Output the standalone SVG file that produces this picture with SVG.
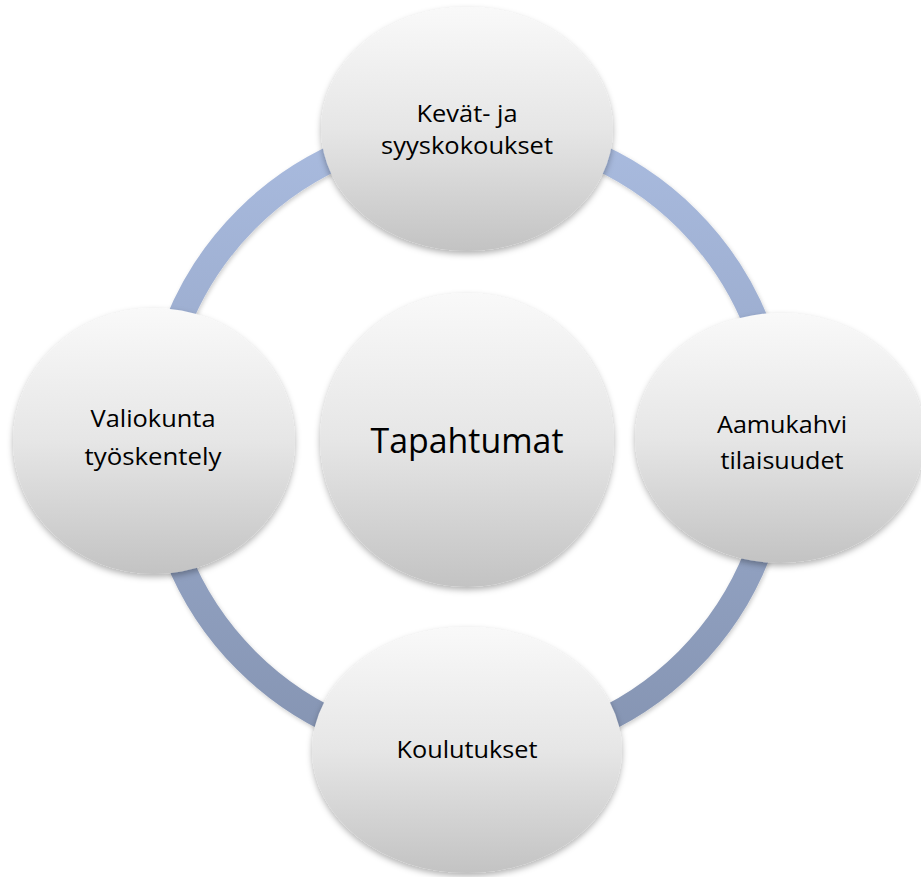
<svg xmlns="http://www.w3.org/2000/svg" width="921" height="877" viewBox="0 0 921 877">
<defs>
<linearGradient id="ringGrad" gradientUnits="userSpaceOnUse" x1="0" y1="128" x2="0" y2="752">
<stop offset="0" stop-color="#a9bbdf"/>
<stop offset="1" stop-color="#8594b2"/>
</linearGradient>
<linearGradient id="nodeGrad" x1="0" y1="0" x2="0" y2="1">
<stop offset="0" stop-color="#f9f9f9"/>
<stop offset="0.5" stop-color="#e6e6e6"/>
<stop offset="1" stop-color="#c3c3c3"/>
</linearGradient>
<filter id="shadow" x="-10%" y="-10%" width="120%" height="125%">
<feDropShadow dx="0" dy="3" stdDeviation="3" flood-color="#000" flood-opacity="0.3"/>
</filter>
<filter id="ringShadow" x="-10%" y="-10%" width="120%" height="120%">
<feDropShadow dx="1" dy="2" stdDeviation="2" flood-color="#000" flood-opacity="0.2"/>
</filter>
</defs>
<style>
.arc{fill:none;stroke:url(#ringGrad);stroke-width:26}
.node{fill:url(#nodeGrad);filter:url(#shadow)}
.lbl{font-family:"Open Sans","Noto Sans","Liberation Sans",sans-serif;font-size:24px;fill:#000;text-anchor:middle}
.big{font-size:35px}
</style>
<rect width="921" height="877" fill="#fff"/>
<g id="connectors" filter="url(#ringShadow)">
<path class="arc" d="M467,128 A312,312 0 0 1 779,440"/>
<path class="arc" d="M779,440 A312,312 0 0 1 467,752"/>
<path class="arc" d="M467,752 A312,312 0 0 1 155,440"/>
<path class="arc" d="M155,440 A312,312 0 0 1 467,128"/>
</g>
<g id="node-center">
<circle class="node" cx="467" cy="440" r="147"/>
<text class="lbl big" x="467" y="453" textLength="193" lengthAdjust="spacingAndGlyphs">Tapahtumat</text>
</g>
<g id="node-top">
<ellipse class="node" cx="467" cy="129" rx="146" ry="122"/>
<text class="lbl" x="467" y="122" textLength="101" lengthAdjust="spacingAndGlyphs">Kevät- ja</text>
<text class="lbl" x="467" y="154" textLength="172" lengthAdjust="spacingAndGlyphs">syyskokoukset</text>
</g>
<g id="node-right">
<ellipse class="node" cx="780" cy="438" rx="145" ry="125"/>
<text class="lbl" x="782" y="433" textLength="130" lengthAdjust="spacingAndGlyphs">Aamukahvi</text>
<text class="lbl" x="782" y="469" textLength="123" lengthAdjust="spacingAndGlyphs">tilaisuudet</text>
</g>
<g id="node-bottom">
<ellipse class="node" cx="467" cy="750" rx="155" ry="123"/>
<text class="lbl" x="467" y="758" textLength="141" lengthAdjust="spacingAndGlyphs">Koulutukset</text>
</g>
<g id="node-left">
<ellipse class="node" cx="154" cy="441" rx="141" ry="133"/>
<text class="lbl" x="153" y="427" textLength="125" lengthAdjust="spacingAndGlyphs">Valiokunta</text>
<text class="lbl" x="153" y="465" textLength="137" lengthAdjust="spacingAndGlyphs">työskentely</text>
</g>
</svg>
